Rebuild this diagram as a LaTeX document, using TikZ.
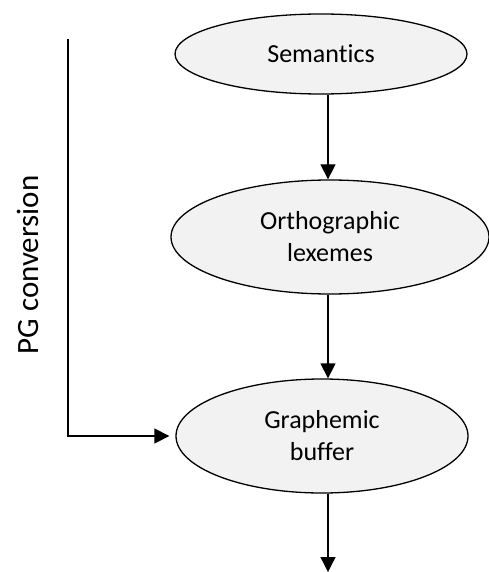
\documentclass[tikz,border=0pt]{standalone}
\usepackage{fontspec}
\setmainfont[Ligatures={NoCommon}]{Carlito}
\usetikzlibrary{shapes.geometric,arrows.meta}
\begin{document}
\begin{tikzpicture}[x=1pt,y=-1pt,
  blob/.style={ellipse,draw=black,line width=1.3pt,fill=gray!10,inner sep=0pt,align=center,
    font=\fontsize{26}{32}\selectfont},
  arr/.style={line width=1.3pt,-{Triangle[length=15pt,width=15pt]}}]
\useasboundingbox (0,0) rectangle (489,572);
\node[blob,minimum width=292pt,minimum height=80pt] (s) at (321,54) {Semantics};
\node[blob,minimum width=318pt,minimum height=114pt] (o) at (330,237) {Orthographic\\lexemes};
\node[blob,minimum width=292pt,minimum height=114pt] (g) at (322,436) {Graphemic\\buffer};
\coordinate (xa) at (328,0);
\coordinate (out) at (328,572);
\coordinate (pgtop) at (68,39);
\draw[arr] (s.south -| xa) -- (o.north -| xa);
\draw[arr] (o.south -| xa) -- (g.north -| xa);
\draw[arr] (g.south -| xa) -- (out);
\draw[arr] (pgtop) |- ([xshift=-6pt]g.west);
\node[rotate=90,anchor=base,font=\fontsize{31}{36}\selectfont] (pg) at (38,265) {PG conversion};
\end{tikzpicture}
\end{document}
